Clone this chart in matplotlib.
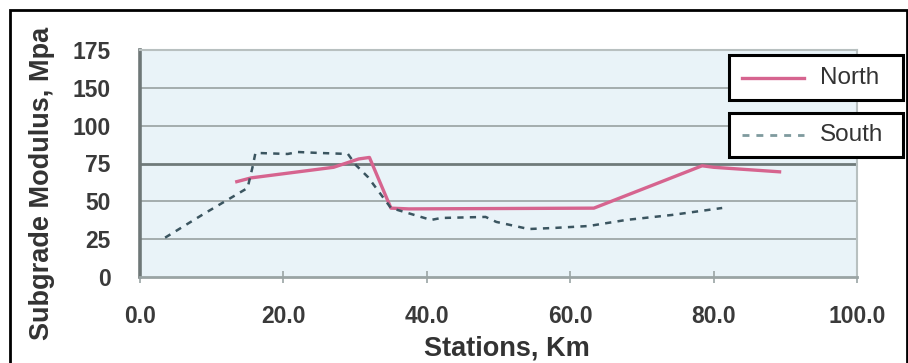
import matplotlib
matplotlib.use("Agg")
import matplotlib.pyplot as plt
from matplotlib.patches import Rectangle
from matplotlib.lines import Line2D

# Subgrade modulus along the alignment (station in km, modulus in MPa)
north_station = [13.5, 15.5, 27.0, 30.5, 32.0, 35.0, 37.5, 63.3, 71.4, 78.4, 80.0, 89.2]
north_modulus = [63.0, 65.5, 72.5, 78.0, 79.0, 45.5, 45.0, 45.5, 60.5, 73.5, 72.5, 69.5]

south_station = [3.5, 9.0, 15.0, 15.7, 16.1, 20.6, 22.0, 24.8, 29.0, 30.1, 31.8, 35.0,
                 40.6, 42.0, 48.2, 49.7, 54.2, 57.7, 62.6, 67.8, 74.2, 81.2]
south_modulus = [26.0, 42.0, 58.8, 72.7, 82.0, 81.3, 82.6, 82.0, 81.3, 74.0, 66.0, 45.6,
                 37.7, 39.0, 39.7, 36.4, 31.7, 32.4, 33.7, 37.7, 41.0, 45.6]

x_ticks = [0, 20, 40, 60, 80, 100]
x_tick_labels = ["0.0", "20.0", "40.0", "60.0", "80.0", "100.0"]
y_ticks = [0, 25, 50, 75, 100, 125, 150]
y_tick_labels = ["0", "25", "50", "75", "100", "150", "175"]

series_names = ["North", "South"]

W, H = 908, 363
fig = plt.figure(figsize=(W / 100, H / 100), dpi=100)
fig.patch.set_facecolor("white")

def fx(px):
    return px / W

def fy(py):
    return 1 - py / H

ax = fig.add_axes([fx(140), fy(277), fx(857) - fx(140), fy(50) - fy(277)])
ax.set_facecolor("#e9f3f8")

north_color = "#d6648f"
south_color = "#3b5560"

ax.plot(north_station, north_modulus, color=north_color, lw=2.4,
        solid_joinstyle="round", zorder=3)
ax.plot(south_station, south_modulus, color=south_color, lw=1.8,
        linestyle=(0, (2.5, 2.5)), zorder=4)

ax.set_xlim(0, 100)
ax.set_ylim(0, 150)
ax.set_xticks(x_ticks)
ax.set_xticklabels(x_tick_labels)
ax.set_yticks(y_ticks)
ax.set_yticklabels(y_tick_labels)

for y in y_ticks[1:]:
    ax.axhline(y, color="#6f7a7a" if y == 75 else "#a4adad",
               lw=2.0 if y == 75 else 1.4, zorder=1)

ax.tick_params(axis="y", length=0, pad=21, labelsize=16.5, labelcolor="#3a3a3a")
ax.tick_params(axis="x", direction="inout", length=8, width=1.2, color="#9aa4a4",
               pad=16, labelsize=16.5, labelcolor="#3a3a3a")
for lbl in ax.get_xticklabels() + ax.get_yticklabels():
    lbl.set_fontweight("bold")
    lbl.set_family("Liberation Sans")

ax.spines["left"].set_color("#6e7777")
ax.spines["left"].set_linewidth(2.6)
ax.spines["bottom"].set_color("#9aa4a4")
ax.spines["bottom"].set_linewidth(2.0)
ax.spines["right"].set_color("#b8c0c0")
ax.spines["right"].set_linewidth(1.5)
ax.spines["top"].set_color("#b8c0c0")
ax.spines["top"].set_linewidth(1.5)

fig.text(fx(42), fy(183), "Subgrade Modulus, Mpa", rotation=90, ha="center",
         va="center", fontsize=19.5, fontweight="bold", family="Liberation Sans",
         color="#333333")
fig.text(fx(507), fy(349), "Stations, Km", ha="center", va="center",
         fontsize=19.5, fontweight="bold", family="Liberation Sans", color="#333333")

# Legend: one framed box per series
boxes = [(729, 55, 903, 100), (729, 113, 903, 157)]
styles = [dict(color=north_color, lw=2.4),
          dict(color="#7f9a9e", lw=2.0, linestyle=(0, (2.5, 2.5)))]
for name, (x0, y0, x1, y1), st in zip(series_names, boxes, styles):
    fig.add_artist(Rectangle((fx(x0), fy(y1)), fx(x1) - fx(x0), fy(y0) - fy(y1),
                             transform=fig.transFigure, fill=True,
                             facecolor="white", edgecolor="black", lw=2.2))
    yc = fy((y0 + y1) / 2)
    fig.add_artist(Line2D([fx(742), fx(804)], [yc, yc], transform=fig.transFigure, **st))
    fig.text(fx(820), yc, name, ha="left", va="center", fontsize=17.5,
             family="Liberation Sans", color="#333333")

# Outer frame
fig.add_artist(Rectangle((fx(10), -0.05), fx(907) - fx(10), fy(10) + 0.05,
                         transform=fig.transFigure, fill=False,
                         edgecolor="black", lw=2.0))

fig.savefig("out.png", dpi=100)
